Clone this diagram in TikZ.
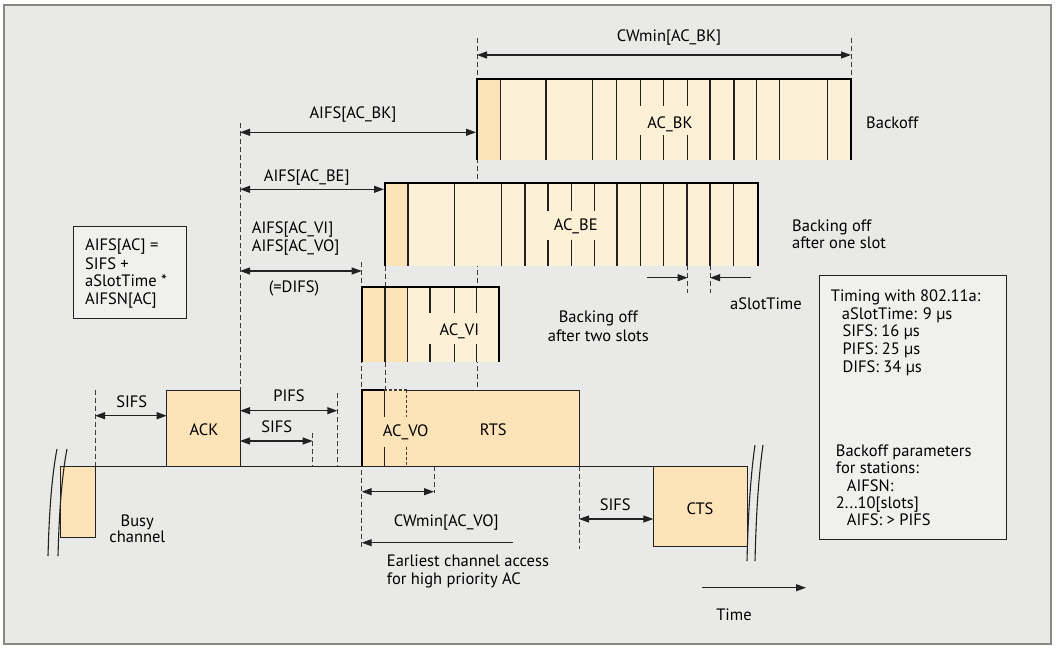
\documentclass[tikz,border=0pt]{standalone}
\usepackage{fontspec}
\setmainfont{PT Sans}
\usetikzlibrary{arrows.meta}
\definecolor{bg}{HTML}{E9EAE7}
\definecolor{framec}{HTML}{8A8580}
\definecolor{boxbg}{HTML}{F0F1EE}
\definecolor{slotlight}{HTML}{FCF1D6}
\definecolor{slotdark}{HTML}{FCE3B8}
\definecolor{ink}{HTML}{222222}
\definecolor{dashc}{HTML}{3C3C3C}
\begin{document}
\begin{tikzpicture}[x=1pt,y=-1pt,
  txt/.style={font=\fontsize{16.5}{19}\selectfont, text=black, inner sep=0pt},
  dline/.style={draw=dashc, line width=0.9pt, dash pattern=on 4.5pt off 3.5pt},
  dim/.style={draw=ink, line width=1.1pt, {Triangle[length=10pt,width=7pt]}-{Triangle[length=10pt,width=7pt]}},
  rarr/.style={draw=ink, line width=1.1pt, -{Triangle[length=10pt,width=7pt]}},
  slotline/.style={draw=ink, line width=1.3pt},
  edgeline/.style={draw=black, line width=2pt},
  outline/.style={draw=ink, line width=1pt},
  infobox/.style={fill=boxbg, draw=ink, line width=1pt},
  brk/.style={draw=ink, line width=1.1pt}
]
\useasboundingbox (0,0) rectangle (1056,648);
\fill[white] (0,0) rectangle (1056,648);
\draw[draw=framec,line width=1.4pt,fill=bg] (4,5) rectangle (1051,644);

% ---------- dashed guide lines ----------
\draw[dline] (477,38) -- (477,390);
\draw[dline] (851,38) -- (851,79);
\draw[dline] (240,123) -- (240,390.7);
\draw[dline] (385,266) -- (385,390);
\draw[dline] (361.7,262) -- (361.7,549);
\draw[dline] (434,466) -- (434,493);
\draw[dline] (579,466) -- (579,549);
\draw[dline] (95,390) -- (95,466);
\draw[dline] (337.3,393) -- (337.3,466);
\draw[dline] (312.7,433) -- (312.7,466);
\draw[dline] (687.7,265) -- (687.7,293);
\draw[dline] (710,265) -- (710,293);

% ---------- AC_BK ----------
\fill[slotlight] (477,79) rectangle (851,160);
\fill[slotdark] (477,79) rectangle (500.7,160);
\foreach \x in {500.7,546,592.7,616.7,710,734,756.7,779.3,827.3}
  \draw[slotline] (\x,79) -- (\x,160);
\foreach \x in {640.7,663.3,687.3}
  {\draw[slotline] (\x,79) -- (\x,106); \draw[slotline] (\x,135) -- (\x,160);}
\draw[edgeline] (477,160) -- (477,79) -- (851,79) -- (851,160);
\node[txt,anchor=base] (acbk) at (670,128.3) {AC\_BK};

% ---------- AC_BE ----------
\fill[slotlight] (385,183) rectangle (758,266);
\fill[slotdark] (385,183) rectangle (408,266);
\foreach \x in {408,454.3,501.4,525,617.1,640.7,663.6,687.1,710,733.6}
  \draw[slotline] (\x,183) -- (\x,266);
\foreach \x in {548,571.4,594.3}
  {\draw[slotline] (\x,183) -- (\x,210.5); \draw[slotline] (\x,239.5) -- (\x,266);}
\draw[edgeline] (385,266) -- (385,183) -- (758,183) -- (758,266);
\node[txt,anchor=base] (acbe) at (575.7,230.5) {AC\_BE};

% ---------- AC_VI ----------
\fill[slotlight] (361.7,287.3) rectangle (499,362.3);
\fill[slotdark] (361.7,287.3) rectangle (407.7,362.3);
\foreach \x in {385,407.7}
  \draw[slotline] (\x,287.3) -- (\x,362.3);
\foreach \x in {430,454.3,476.7}
  {\draw[slotline] (\x,287.3) -- (\x,313); \draw[slotline] (\x,344) -- (\x,362.3);}
\draw[edgeline] (361.7,362.3) -- (361.7,287.3) -- (499,287.3) -- (499,362.3);
\node[txt,anchor=base] (acvi) at (459.3,335) {AC\_VI};

% ---------- Busy channel, ACK, RTS, CTS ----------
\draw[outline,fill=slotdark] (60,466) -- (60,537.7) -- (95,537.7) -- (95,466);
\draw[outline,fill=slotdark] (166.7,390.7) rectangle (240,466);
\node[txt,anchor=base] (ack) at (204,435.7) {ACK};
\fill[slotdark] (361.7,390) rectangle (579,466);
\draw[outline] (406.7,390) -- (579,390) -- (579,466);
\draw[outline,fill=slotdark] (653.3,466) rectangle (747.3,546);
\node[txt,anchor=base] (cts) at (700,514) {CTS};
% AC_VO inside RTS
\draw[slotline] (384.3,390) -- (384.3,416.7);
\draw[slotline] (384.3,446.7) -- (384.3,466);
\draw[dline,line width=1.2pt,dash pattern=on 3pt off 2pt] (406.7,390) -- (406.7,416.7);
\draw[dline,line width=1.2pt,dash pattern=on 3pt off 2pt] (406.7,446.7) -- (406.7,466);
\draw[dline,line width=1.2pt,dash pattern=on 3pt off 2pt] (384.3,390) -- (406.7,390);
\draw[edgeline] (361.7,466) -- (361.7,390) -- (384.3,390);
\node[txt,anchor=base] (acvo) at (405.7,436.7) {AC\_VO};
\node[txt,anchor=base] (rts) at (493.3,435.7) {RTS};

% time axis
\draw[outline] (60,466) -- (653.3,466);

% break marks
\draw[brk] (57,449) .. controls (51,480) and (49,520) .. (48,556);
\draw[brk] (67,449) .. controls (61,480) and (59,520) .. (58,556);
\draw[brk] (755,445) .. controls (750,480) and (748,520) .. (747,561);
\draw[brk] (763,445) .. controls (758,480) and (756,520) .. (755,561);

% ---------- dimension arrows ----------
\coordinate (bkL) at (477,55); \coordinate (bkR) at (851,55);
\draw[dim] (bkL) -- (bkR);
\node[txt,anchor=base] at (669,41.7) {CWmin[AC\_BK]};

\coordinate (a1L) at (240,132.3); \coordinate (a1R) at (476,132.3);
\draw[dim] (a1L) -- (a1R);
\node[txt,anchor=base] at (353,118.3) {AIFS[AC\_BK]};

\coordinate (a2L) at (240,189.3); \coordinate (a2R) at (384,189.3);
\draw[dim] (a2L) -- (a2R);
\node[txt,anchor=base] at (306.7,181.7) {AIFS[AC\_BE]};

\node[txt,anchor=base west] at (251.7,233.3) {AIFS[AC\_VI]};
\node[txt,anchor=base west] at (251.7,251) {AIFS[AC\_VO]};
\coordinate (a3L) at (240,271); \coordinate (a3R) at (361.7,271);
\draw[dim] (a3L) -- (a3R);
\node[txt,anchor=base] at (294,292.7) {(=DIFS)};

\coordinate (s1L) at (95,415.7); \coordinate (s1R) at (166.7,415.7);
\draw[dim] (s1L) -- (s1R);
\node[txt,anchor=base] at (131.7,407.3) {SIFS};

\coordinate (pL) at (240,410.7); \coordinate (pR) at (337.3,410.7);
\draw[dim] (pL) -- (pR);
\node[txt,anchor=base] at (289,401.7) {PIFS};

\coordinate (s2L) at (240,441); \coordinate (s2R) at (312.7,441);
\draw[dim] (s2L) -- (s2R);
\node[txt,anchor=base] at (276.7,432.3) {SIFS};

\coordinate (cvL) at (361.7,491.7); \coordinate (cvR) at (434,491.7);
\draw[dim] (cvL) -- (cvR);
\node[txt,anchor=base] at (446.3,526.7) {CWmin[AC\_VO]};

\coordinate (eS) at (513,542.7); \coordinate (eE) at (361.7,542.7);
\draw[rarr] (eS) -- (eE);
\node[txt,anchor=base west] at (386.7,566.7) {Earliest channel access};
\node[txt,anchor=base west] at (386.7,584) {for high priority AC};

\coordinate (s3L) at (579,519); \coordinate (s3R) at (653.3,519);
\draw[dim] (s3L) -- (s3R);
\node[txt,anchor=base] at (615.3,510.7) {SIFS};

\coordinate (stA) at (646.7,277.7); \coordinate (stB) at (687.7,277.7);
\coordinate (stC) at (750.7,277.7); \coordinate (stD) at (710,277.7);
\draw[rarr] (stA) -- (stB);
\draw[rarr] (stC) -- (stD);
\node[txt,anchor=base west] at (730,309.3) {aSlotTime};

\coordinate (tS) at (701.7,587.7); \coordinate (tE) at (806,587.7);
\draw[rarr] (tS) -- (tE);
\node[txt,anchor=base] at (734,620.7) {Time};

% ---------- other labels ----------
\node[txt,anchor=base west] at (866,128) {Backoff};
\node[txt,anchor=base west] at (792,231.5) {Backing off};
\node[txt,anchor=base west] at (792,248) {after one slot};
\node[txt,anchor=base] at (598.3,322.3) {Backing off};
\node[txt,anchor=base] at (598.3,341.7) {after two slots};
\node[txt,anchor=base] at (137.3,526) {Busy};
\node[txt,anchor=base] at (137.3,542.7) {channel};

% ---------- formula box ----------
\draw[infobox] (73.3,226) rectangle (186.7,318);
\node[txt,anchor=base west] at (85,250.7) {AIFS[AC] =};
\node[txt,anchor=base west] at (85,269) {SIFS +};
\node[txt,anchor=base west] at (85,286.7) {aSlotTime *};
\node[txt,anchor=base west] at (85,304) {AIFSN[AC]};

% ---------- timing box ----------
\draw[infobox] (819.3,275) rectangle (1006.7,539.3);
\node[txt,anchor=base west] at (830.7,301) {Timing with 802.11a:};
\node[txt,anchor=base west] at (841.7,319) {aSlotTime: 9 µs};
\node[txt,anchor=base west] at (842.3,336.7) {SIFS: 16 µs};
\node[txt,anchor=base west] at (842.3,354.3) {PIFS: 25 µs};
\node[txt,anchor=base west] at (842.3,372.3) {DIFS: 34 µs};
\node[txt,anchor=base west] at (835.7,456) {Backoff parameters};
\node[txt,anchor=base west] at (835.7,473.3) {for stations:};
\node[txt,anchor=base west] at (846.7,491) {AIFSN:};
\node[txt,anchor=base west] at (835.7,508.3) {2...10[slots]};
\node[txt,anchor=base west] at (846.7,525) {AIFS: > PIFS};
\end{tikzpicture}
\end{document}
